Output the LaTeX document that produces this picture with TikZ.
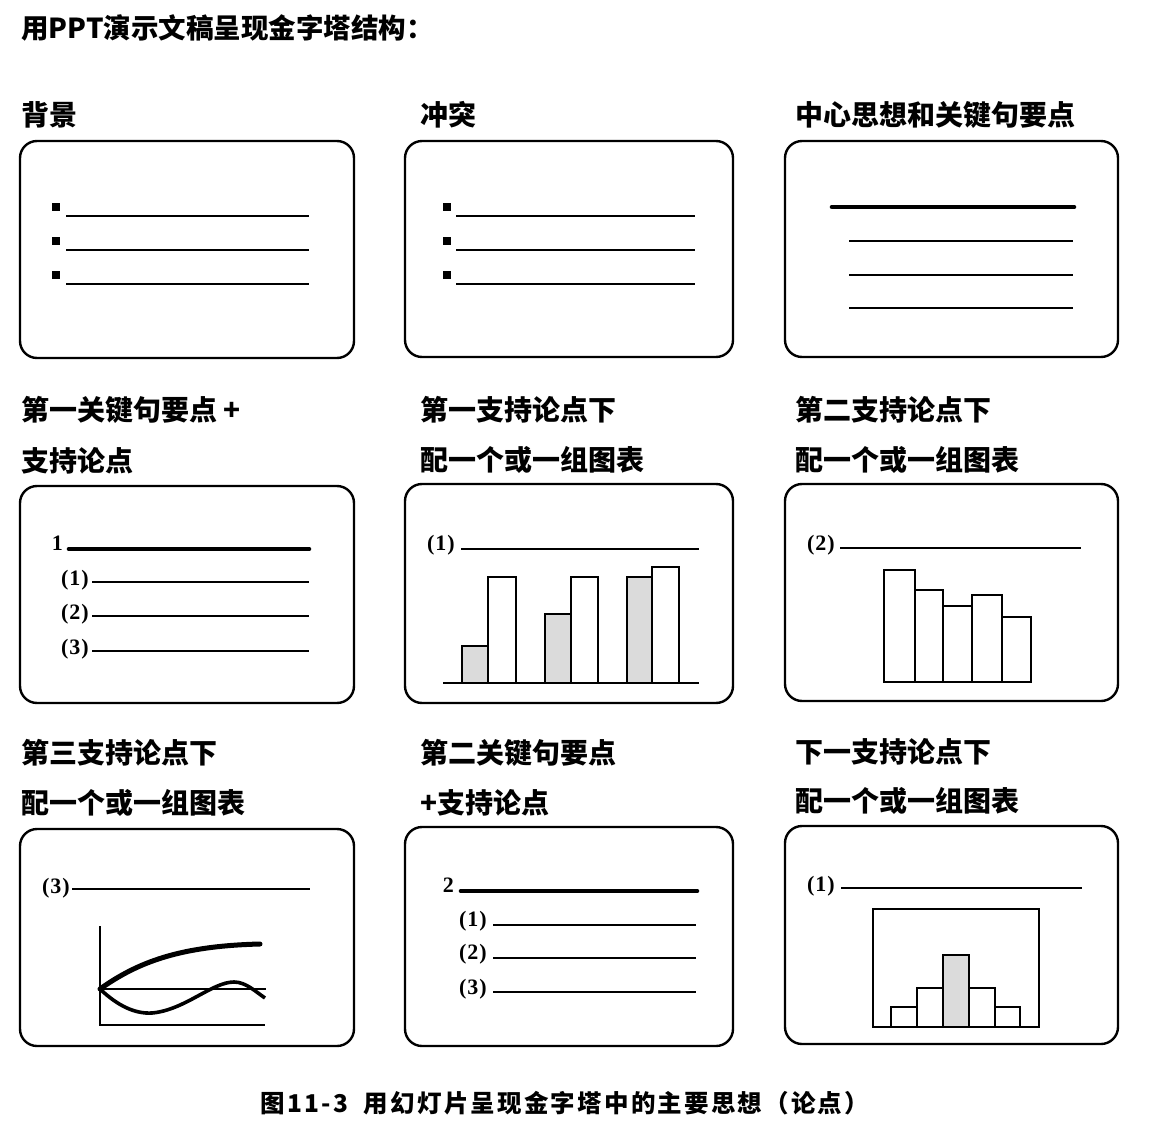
\documentclass[tikz,border=0pt]{standalone}
\usepackage{fontspec}
\newfontfamily\cjk{Noto Sans CJK SC}
\newfontfamily\cjkwide[LetterSpace=9]{Noto Sans CJK SC}
\newfontfamily\numfont{Liberation Serif}
\begin{document}
\begin{tikzpicture}[x=1pt,y=-1pt,
  slide/.style={draw,line width=2.4pt,rounded corners=17pt},
  rule/.style={line width=2pt},
  boldrule/.style={line width=4.6pt,line cap=round},
  bar/.style={draw,line width=2.4pt,fill=white},
  shadebar/.style={draw,line width=2.4pt,fill=black!14},
  lbl/.style={anchor=west,inner sep=0pt,font=\cjk\bfseries\fontsize{28}{28}\selectfont},
  num/.style={anchor=base east,inner sep=0pt,font=\numfont\bfseries\fontsize{22}{22}\selectfont},
  bullet/.style={fill=black,minimum size=8.5pt,inner sep=0pt}
]
\useasboundingbox (0,0) rectangle (1170,1142);
\fill[white] (0,0) rectangle (1170,1142);

% title
\node[anchor=west,inner sep=0pt,font=\cjk\bfseries\fontsize{27.5}{27.5}\selectfont] (title) at (21,28) {用PPT演示文稿呈现金字塔结构：};

% labels
\node[lbl] (l1) at (21,115) {背景};
\node[lbl] (l2) at (420,115) {冲突};
\node[lbl] (l3) at (795,115) {中心思想和关键句要点};
\node[lbl] (l4a) at (21,410) {第一关键句要点 +};
\node[lbl] (l4b) at (21,461) {支持论点};
\node[lbl] (l5a) at (420,410) {第一支持论点下};
\node[lbl] (l5b) at (420,460) {配一个或一组图表};
\node[lbl] (l6a) at (795,410) {第二支持论点下};
\node[lbl] (l6b) at (795,460) {配一个或一组图表};
\node[lbl] (l7a) at (21,753) {第三支持论点下};
\node[lbl] (l7b) at (21,803) {配一个或一组图表};
\node[lbl] (l8a) at (420,753) {第二关键句要点};
\node[lbl] (l8b) at (420,803) {+支持论点};
\node[lbl] (l9a) at (795,752) {下一支持论点下};
\node[lbl] (l9b) at (795,801) {配一个或一组图表};

% slides
\draw[slide] (20,141) rectangle (354,358);
\draw[slide] (405,141) rectangle (733,357);
\draw[slide] (785,141) rectangle (1118,357);
\draw[slide] (20,486) rectangle (354,703);
\draw[slide] (405,484) rectangle (733,703);
\draw[slide] (785,484) rectangle (1118,701);
\draw[slide] (20,829) rectangle (354,1046);
\draw[slide] (405,827) rectangle (733,1046);
\draw[slide] (785,826) rectangle (1118,1044);

% slide 1: background
\node[bullet] (b11) at (56,207) {};
\node[bullet] (b12) at (56,241) {};
\node[bullet] (b13) at (56,275) {};
\draw[rule] (66,216) -- (309,216);
\draw[rule] (66,250) -- (309,250);
\draw[rule] (66,284) -- (309,284);

% slide 2: conflict
\node[bullet] (b21) at (447,207) {};
\node[bullet] (b22) at (447,241) {};
\node[bullet] (b23) at (447,275) {};
\draw[rule] (456,216) -- (695,216);
\draw[rule] (456,250) -- (695,250);
\draw[rule] (456,284) -- (695,284);

% slide 3: main idea
\draw[boldrule] (832,207) -- (1074,207);
\draw[rule] (849,241) -- (1073,241);
\draw[rule] (849,275) -- (1073,275);
\draw[rule] (849,308) -- (1073,308);

% slide 4: key line 1
\node[num] (n40) at (63,550) {1};
\draw[boldrule] (69,549) -- (309,549);
\node[num] (n41) at (89,585) {(\kern1pt 1\kern1pt)};
\draw[rule] (92,582) -- (309,582);
\node[num] (n42) at (89,619) {(\kern1pt 2\kern1pt)};
\draw[rule] (92,616) -- (309,616);
\node[num] (n43) at (89,654) {(\kern1pt 3\kern1pt)};
\draw[rule] (92,651) -- (309,651);

% slide 5: grouped bars
\node[num] (n51) at (455,550) {(\kern1pt 1\kern1pt)};
\draw[rule] (461,549) -- (699,549);
\draw[shadebar] (462,683) rectangle (488,646);
\draw[bar] (488,683) rectangle (516,577);
\draw[shadebar] (545,683) rectangle (571,614);
\draw[bar] (571,683) rectangle (598,577);
\draw[shadebar] (627,683) rectangle (652,577);
\draw[bar] (652,683) rectangle (679,567);
\draw[line width=2.4pt] (443,683) -- (699,683);

% slide 6: descending bars
\node[num] (n61) at (835,550) {(\kern1pt 2\kern1pt)};
\draw[rule] (840,548) -- (1081,548);
\draw[bar] (884,682) rectangle (915,570);
\draw[bar] (915,682) rectangle (943,590);
\draw[bar] (943,682) rectangle (972,606);
\draw[bar] (972,682) rectangle (1002,595);
\draw[bar] (1002,682) rectangle (1031,617);

% slide 7: line chart
\node[num] (n71) at (70,893) {(\kern1pt 3\kern1pt)};
\draw[rule] (72,889) -- (310,889);
\draw[line width=2.4pt] (100,926) -- (100,1025) -- (265,1025);
\draw[line width=2pt] (100,989) -- (266,989);
\draw[line width=5pt,line cap=round] (100,989) .. controls (138,962) and (180,946) .. (260,944);
\draw[line width=3.6pt] (100,989) .. controls (118,1006) and (135,1014) .. (152,1013)
  .. controls (185,1010) and (212,982) .. (234,982)
  .. controls (246,982) and (256,992) .. (265,998);

% slide 8: key line 2
\node[num] (n80) at (454,892) {2};
\draw[boldrule] (461,891) -- (697,891);
\node[num] (n81) at (487,926) {(\kern1pt 1\kern1pt)};
\draw[rule] (493,925) -- (696,925);
\node[num] (n82) at (487,959) {(\kern1pt 2\kern1pt)};
\draw[rule] (493,958) -- (696,958);
\node[num] (n83) at (487,994) {(\kern1pt 3\kern1pt)};
\draw[rule] (493,992) -- (696,992);

% slide 9: histogram
\node[num] (n91) at (835,891) {(\kern1pt 1\kern1pt)};
\draw[rule] (841,888) -- (1082,888);
\draw[line width=2.4pt] (873,909) rectangle (1039,1027);
\draw[bar] (891,1027) rectangle (917,1007);
\draw[bar] (917,1027) rectangle (943,988);
\draw[shadebar] (943,1027) rectangle (969,955);
\draw[bar] (969,1027) rectangle (995,988);
\draw[bar] (995,1027) rectangle (1020,1007);

% caption
\node[inner sep=0pt,font=\cjkwide\bfseries\fontsize{24.5}{24.5}\selectfont] (cap) at (565,1103) {图11-3\ \ 用幻灯片呈现金字塔中的主要思想（论点）};
\end{tikzpicture}
\end{document}
